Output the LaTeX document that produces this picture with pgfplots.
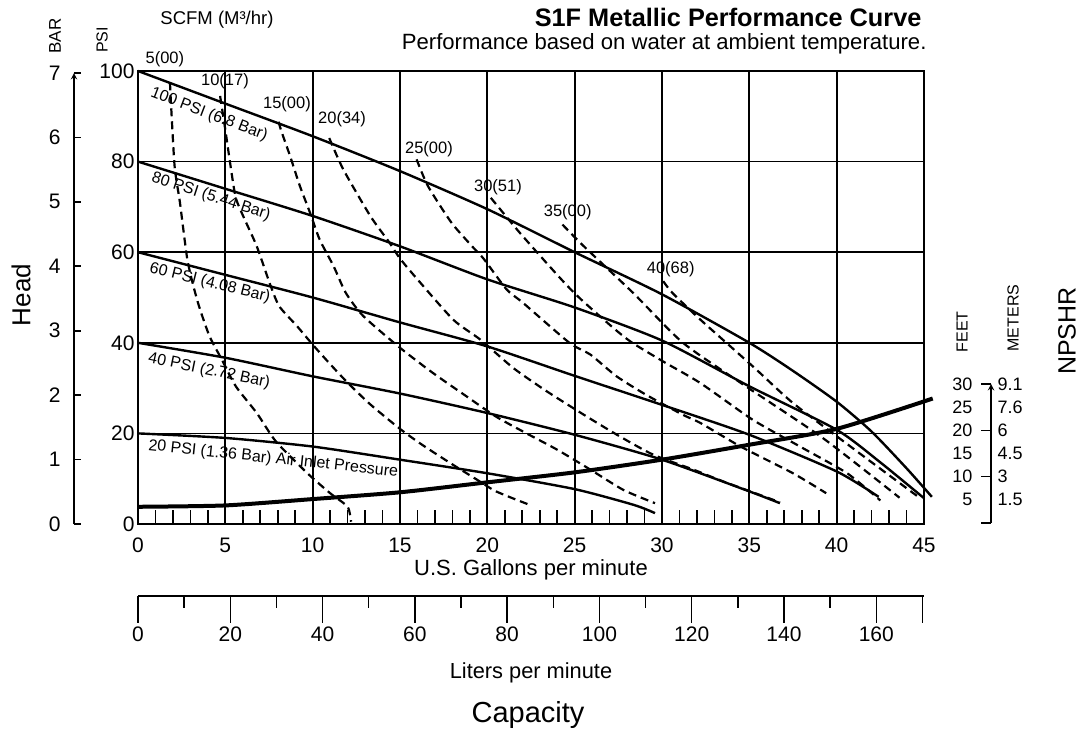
\documentclass[border=0pt]{standalone}
\usepackage{fontspec}
\setmainfont{Liberation Sans}
\usepackage{pgfplots}
\pgfplotsset{compat=1.18}

\newcommand\fs[1]{\fontsize{#1}{#1}\selectfont}

\pgfplotsset{
  perf/.style={black, line width=2.4pt, mark=none, smooth, tension=0.4},
  scfm/.style={black, line width=2.2pt, dash pattern=on 8pt off 5pt, mark=none, smooth, tension=0.4},
  npsh/.style={black, line width=4pt, mark=none, smooth, tension=0.4},
  side/.style={scale only axis, width=1pt, xmin=0, xmax=1,
    axis x line=none, axis line style={-, line width=1.8pt},
    every tick/.style={black, line width=1.6pt},
    /pgf/number format/assume math mode=true},
}

\begin{document}
\begin{tikzpicture}
\useasboundingbox (-138pt,-207pt) rectangle (944pt,524pt);

% GPM vs PSI
\begin{axis}[
  at={(0pt,0pt)}, anchor=south west,
  scale only axis, width=786pt, height=453pt,
  xmin=0, xmax=45, ymin=0, ymax=100,
  xtick={0,5,...,45}, ytick={0,20,...,100},
  minor x tick num=4,
  grid=major, grid style={black, line width=1.8pt},
  axis line style={line width=2.6pt},
  tick align=inside, xtick pos=bottom, ytick pos=left,
  major tick length=14pt, minor tick length=14pt,
  every tick/.style={black, line width=1.6pt},
  ytick style={draw=none},
  /pgf/number format/assume math mode=true,
  ticklabel style={font=\fs{21}},
  xticklabel style={anchor=center, yshift=-21pt},
  xlabel={U.S. Gallons per minute},
  xlabel style={font=\fs{22}, at={(axis description cs:0.5,0)}, anchor=center, yshift=-46pt},
  clip=false,
]
% air inlet pressure curves
\addplot[perf] coordinates {(0,100) (5,92.8) (10,85.6) (15,77.9) (20,69.5) (25,60) (30,50.7) (35,40) (37.5,33.8) (40,27) (42,20.4) (44,12.3) (45.45,6)};
\addplot[perf] coordinates {(0,80) (5,74) (10,68) (15,61.3) (20,54) (25,47.8) (30,40.5) (35,30.4) (40,20.8) (42.5,13.6) (45,5.7)};
\addplot[perf] coordinates {(0,60) (5,55) (10,50) (15,44.5) (20,39.2) (25,32.7) (30,26.3) (35,19.7) (40,11.6) (42.4,6)};
\addplot[perf] coordinates {(0,40) (5,36.7) (10,32.6) (15,28.8) (20,24.5) (25,19.7) (30,14.2) (35,7.2) (36.75,4.6)};
\addplot[perf] coordinates {(0,20) (5,19) (10,17.1) (15,14.2) (20,11.2) (25,7.7) (28.4,4.2) (29.6,2.4)};
% NPSHR
\addplot[npsh] coordinates {(0,3.8) (5,4.1) (10,5.5) (15,7) (20,9.2) (25,11.4) (30,14.2) (35,17.5) (40,21) (45.5,27.7)};
% air consumption (SCFM)
\addplot[scfm] coordinates {(1.83,97.5) (1.9,92) (2.1,78.8) (2.4,71) (2.8,59) (3.1,53.6) (3.5,48) (4.1,41.4) (4.8,36.3) (5.6,30.4) (6.8,24.5) (7.9,18.2) (9.7,11.2) (11,6.8) (12,3.8) (12.2,0.5)};
\addplot[scfm] coordinates {(4.7,94.5) (5.0,87) (5.3,79) (5.6,72) (6.1,67.3) (6.8,61.3) (7.6,52.5) (8.1,48) (9.1,43.7) (10,39.6) (11,35.3) (12,31.2) (13.3,26.4) (15,21) (16.3,17.4) (17.9,13.4) (19.4,9.8) (20.5,7.2) (22.3,4.4)};
\addplot[scfm] coordinates {(8.05,88.8) (8.2,86.8) (8.7,81.3) (9.27,74.6) (9.85,68.7) (10.4,62.8) (11.2,56.9) (11.9,51) (12.9,45.9) (15,38.9) (16.9,33.3) (18.8,28.2) (20.5,23.7) (22.05,20.4) (24,16.4) (25.9,12) (27.8,7.5) (29.6,4.6)};
\addplot[scfm] coordinates {(10.95,85.2) (11.75,78.3) (13.3,68) (14.4,62.1) (15,58.6) (16,54) (18.05,45.1) (19.6,40.7) (21.5,34.4) (23.4,29.3) (25.7,23.7) (27.6,19.3) (29.5,15.3) (31.8,12) (33.5,9.4) (36.75,4.8)};
\addplot[scfm] coordinates {(15.95,80.5) (16.6,74.6) (17.95,66.5) (19.2,61) (19.8,58.5) (21.1,51.8) (22.05,48.8) (24.7,40) (25.9,37.4) (27.4,32.6) (29.1,28.5) (31.2,24.1) (32.2,22.3) (34.5,17.1) (37.5,11.2) (39.4,6.8)};
\addplot[scfm] coordinates {(20.2,72) (21.7,65) (23,59.3) (24.5,52.9) (25.5,49.1) (27.3,43) (28.3,40) (30.1,35.8) (32.2,31.1) (35.2,23) (37.9,17.1) (40.6,11.2) (42.5,5.2)};
\addplot[scfm] coordinates {(24.3,66.1) (25.5,61.4) (28.35,51) (31.2,40) (34.8,30.4) (39.2,19) (43.6,5.8)};
\addplot[scfm] coordinates {(30.07,53.6) (30.6,51) (32.2,45.1) (35.2,34.8) (37.5,26.7) (41,16.5) (44.6,6.2)};
% SCFM labels
\begin{scope}[every node/.style={font=\fs{16.5}}]
\node at (axis cs:1.54,102.5) {5(00)};
\node at (axis cs:4.98,97.8) {10(17)};
\node at (axis cs:8.53,92.6) {15(00)};
\node at (axis cs:11.68,89.4) {20(34)};
\node at (axis cs:16.66,82.8) {25(00)};
\node at (axis cs:20.61,74.4) {30(51)};
\node at (axis cs:24.6,68.9) {35(00)};
\node at (axis cs:30.5,56.3) {40(68)};
\end{scope}
% pressure labels
\begin{scope}[every node/.style={font=\fs{16}}]
\node[rotate=-21] at (axis cs:4.07,90.4) {100 PSI (6.8 Bar)};
\node[rotate=-18] at (axis cs:4.18,72.2) {80 PSI (5.44 Bar)};
\node[rotate=-14] at (axis cs:4.12,53.2) {60 PSI (4.08 Bar)};
\node[rotate=-11.6] at (axis cs:4.07,33.8) {40 PSI (2.72 Bar)};
\node[rotate=-6.1] at (axis cs:7.74,14.3) {20 PSI (1.36 Bar) Air Inlet Pressure};
\end{scope}
\end{axis}

% litres per minute scale
\begin{axis}[
  at={(0pt,-72pt)}, anchor=south west,
  scale only axis, width=786pt, height=1pt,
  xmin=0, xmax=170.34, ymin=0, ymax=1,
  axis y line=none, axis x line=bottom,
  axis line style={-, line width=2pt},
  xtick={0,20,...,160}, minor xtick={10,30,...,150},
  extra x ticks={170}, extra x tick labels={},
  tick align=outside, major tick length=27pt, minor tick length=12pt,
  every tick/.style={black, line width=1.4pt},
  /pgf/number format/assume math mode=true,
  ticklabel style={font=\fs{21}},
  xticklabel style={anchor=center, yshift=-11pt},
  xlabel={Liters per minute},
  xlabel style={font=\fs{21.8}, at={(axis description cs:0.5,0)}, anchor=center, yshift=-77pt},
]
\addplot[draw=none] coordinates {(0,0)};
\end{axis}

% BAR scale
\begin{axis}[side,
  at={(-64pt,0pt)}, anchor=south west, height=451pt,
  ymin=0, ymax=7, axis y line=left,
  ytick={0,...,7}, tick align=inside, major tick length=7pt,
  ticklabel style={font=\fs{21}},
  yticklabel style={xshift=-10pt},
]
\addplot[draw=none] coordinates {(0,0)};
\end{axis}

% NPSHR scale: ticks, feet, metres
\begin{axis}[side,
  at={(853pt,1pt)}, anchor=south west, height=139pt,
  ymin=0, ymax=30, axis y line=left,
  ytick={0,10,20,30}, yticklabels={}, tick align=outside, major tick length=10pt,
]
\addplot[draw=none] coordinates {(0,0)};
\end{axis}
\begin{axis}[side,
  at={(853pt,1pt)}, anchor=south west, height=139pt,
  ymin=0, ymax=30, axis y line=left, axis line style={draw=none},
  ytick={5,10,...,30}, major tick length=0pt,
  ticklabel style={font=\fs{18}},
  yticklabel style={xshift=-15pt},
]
\addplot[draw=none] coordinates {(0,0)};
\end{axis}
\begin{axis}[side,
  at={(853pt,1pt)}, anchor=south west, height=139pt,
  ymin=0, ymax=30, axis y line=right, axis line style={draw=none},
  ytick={5,10,...,30}, yticklabels={1.5,3,4.5,6,7.6,9.1}, major tick length=0pt,
  ticklabel style={font=\fs{18}},
  yticklabel style={xshift=2pt},
]
\addplot[draw=none] coordinates {(0,0)};
\end{axis}

% titles and axis names
\node[anchor=east, font=\bfseries\fs{25.3}] at (787pt,507pt) {S1F Metallic Performance Curve};
\node[anchor=east, font=\fs{22.1}] at (792pt,480pt) {Performance based on water at ambient temperature.};
\node[font=\fs{18.5}] at (79pt,504pt) {SCFM (M³/hr)};
\node[rotate=90, font=\fs{17}] at (-83pt,488pt) {BAR};
\node[rotate=90, font=\fs{16}] at (-36pt,484pt) {PSI};
\node[rotate=90, font=\fs{26}] at (-117pt,229pt) {Head};
\node[rotate=90, font=\fs{16}] at (824pt,192pt) {FEET};
\node[rotate=90, font=\fs{16}] at (875pt,206pt) {METERS};
\node[rotate=90, font=\fs{25}] at (929pt,193pt) {NPSHR};
\node[font=\fs{29}] at (390pt,-191pt) {Capacity};
\end{tikzpicture}
\end{document}
